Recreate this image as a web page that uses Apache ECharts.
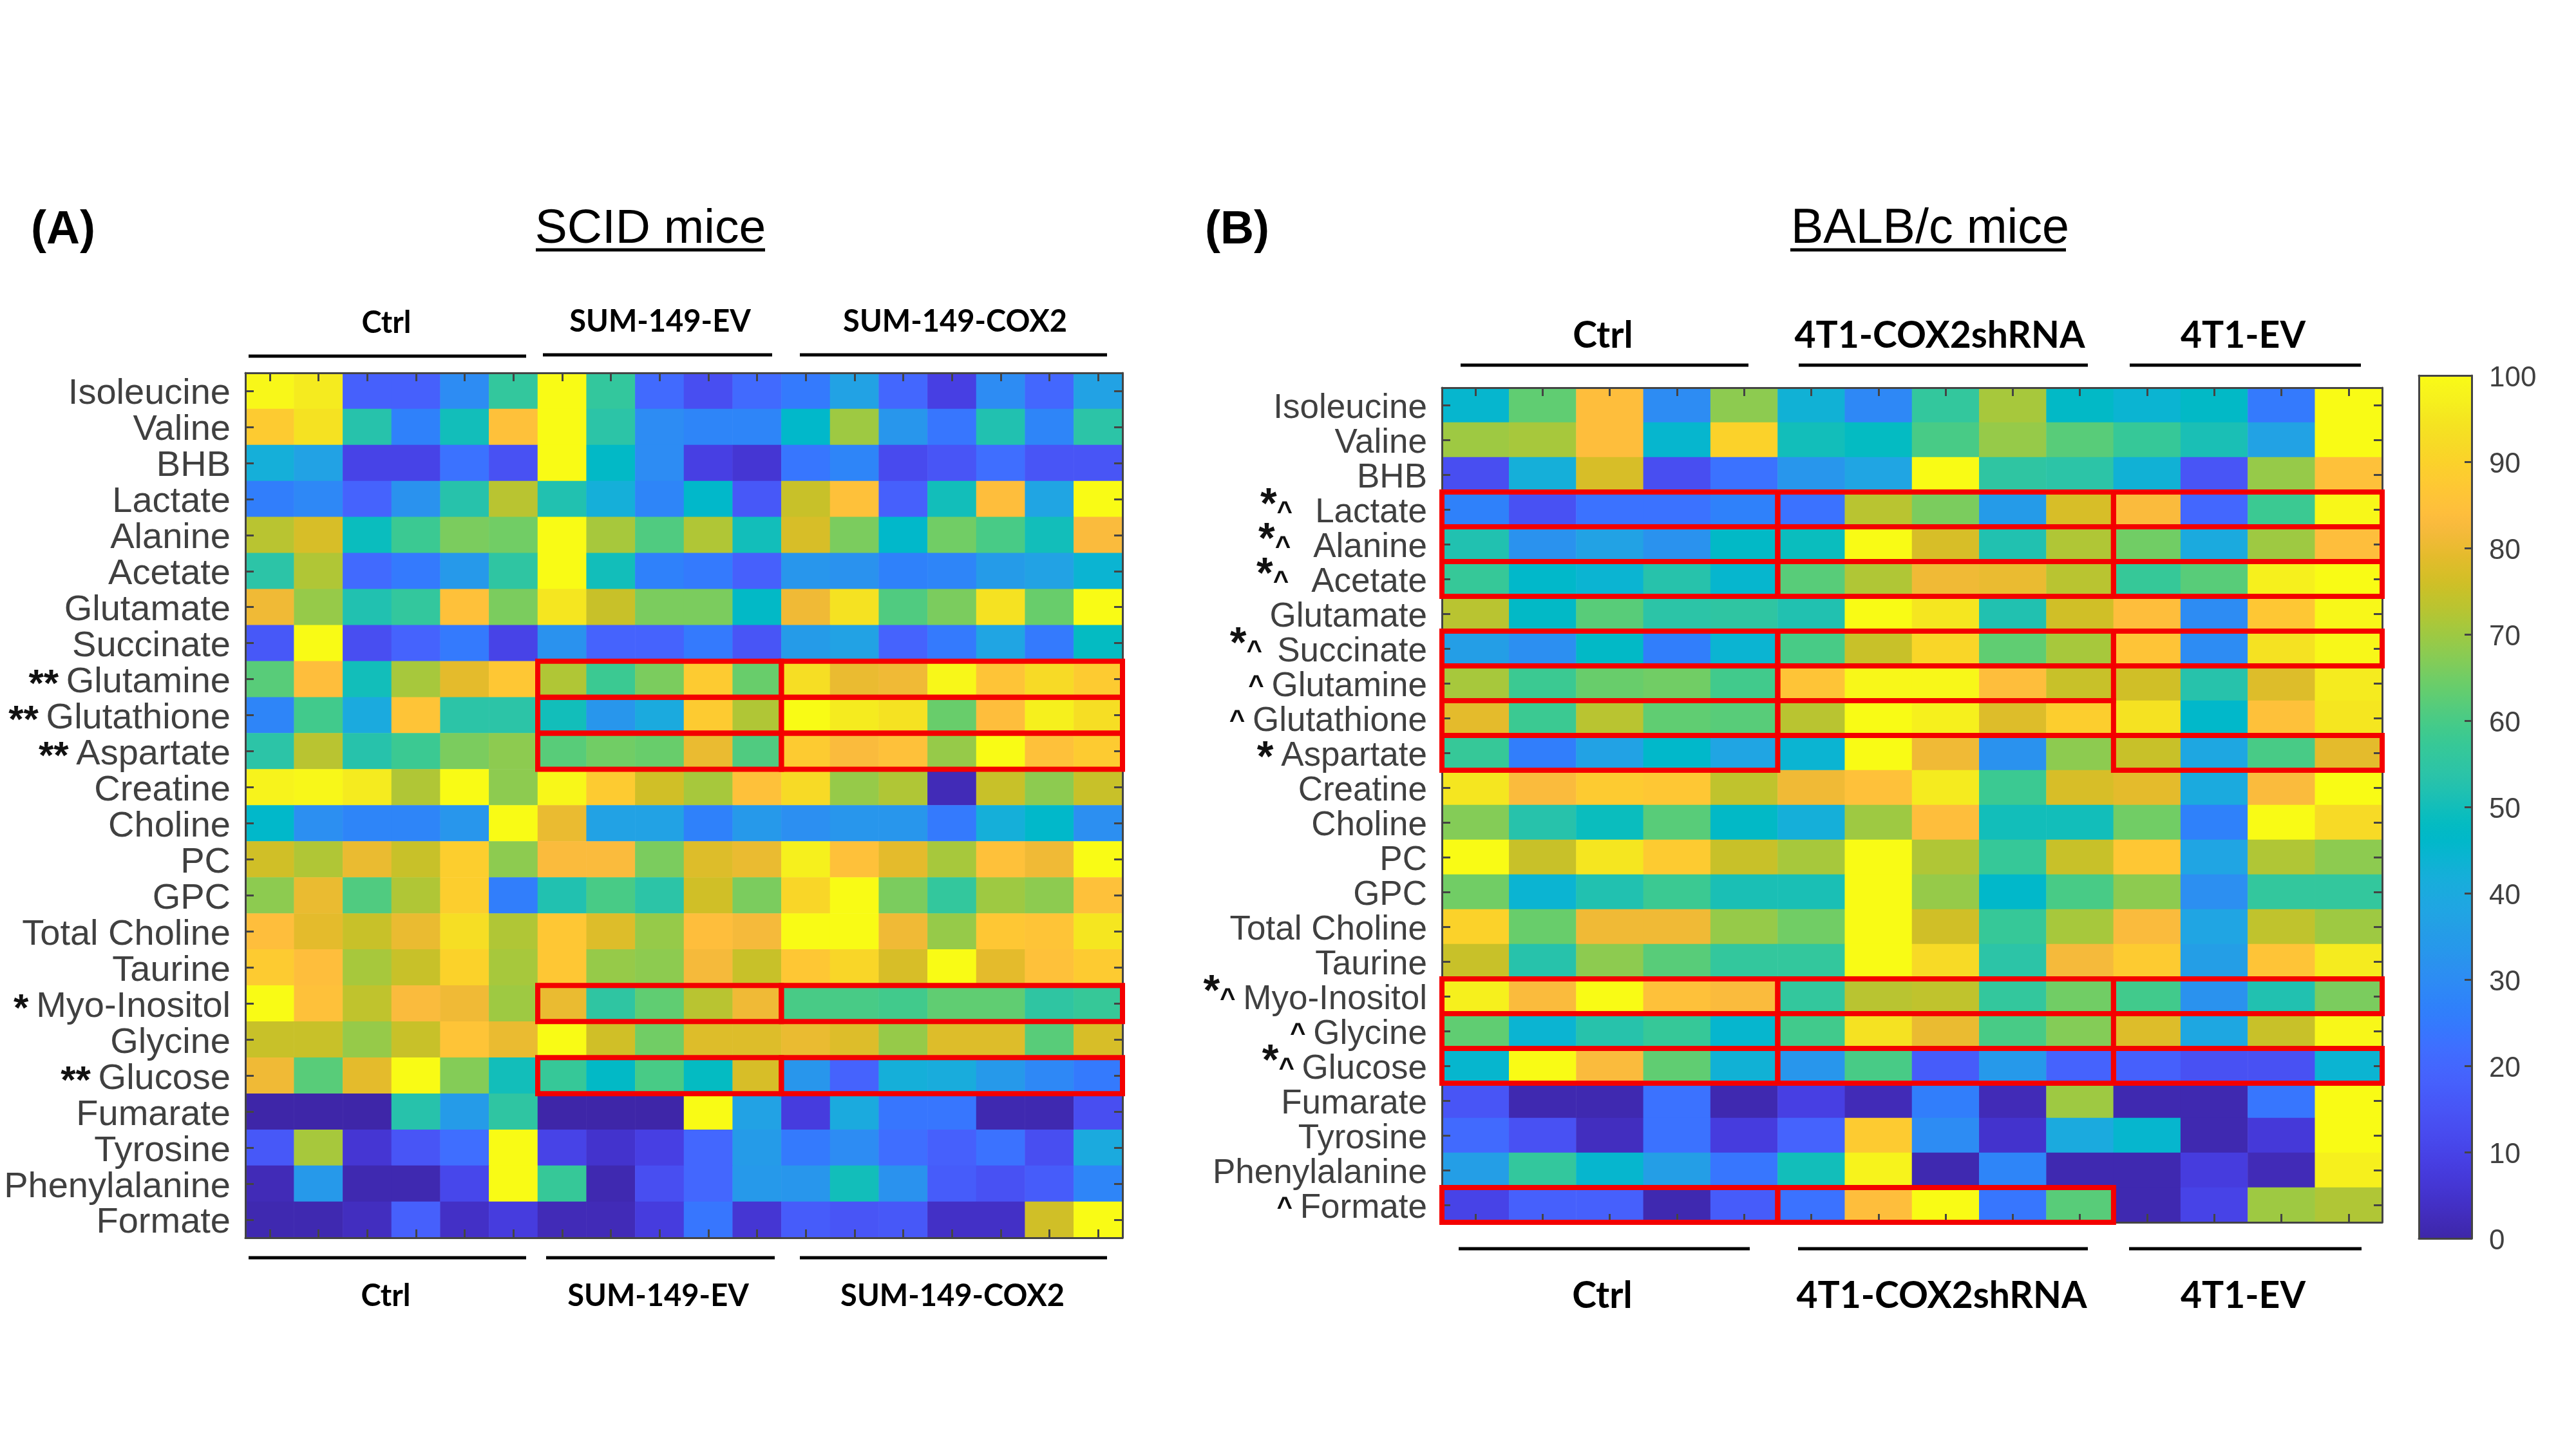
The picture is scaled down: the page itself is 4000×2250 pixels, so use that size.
<!DOCTYPE html>
<html><head><meta charset="utf-8">
<style>html,body{margin:0;padding:0;background:#fff}#c{width:4000px;height:2250px}</style>
<script src="https://cdn.jsdelivr.net/npm/echarts@6/dist/echarts.min.js"></script>
</head><body><div id="c"></div>
<script>
const metabolites = ['Isoleucine','Valine','BHB','Lactate','Alanine','Acetate','Glutamate','Succinate','Glutamine','Glutathione','Aspartate','Creatine','Choline','PC','GPC','Total Choline','Taurine','Myo-Inositol','Glycine','Glucose','Fumarate','Tyrosine','Phenylalanine','Formate'];
const marksA = ['','','','','','','','','** ','** ','** ','','','','','','','* ','','** ','','','',''];
const marksB = ['','','','*^   ','*^   ','*^   ','','*^  ','^ ','^ ','* ','','','','','','','*^ ','^ ','*^ ','','','','^ '];
const samplesA = ['1','2','3','4','5','6','7','8','9','10','11','12','13','14','15','16','17','18'];
const samplesB = ['1','2','3','4','5','6','7','8','9','10','11','12','13','14'];
const colorbarTicks = [0,100];

const scidValues = [
[99,96,18,18,30,56,100,56,21,13,21,25,37,20,9,30,20,37],
[88,94,53,27,50,85,100,54,30,28,28,46,70,33,24,52,28,54],
[42,37,10,10,23,14,100,47,30,9,6,24,28,12,15,22,15,15],
[26,29,19,32,53,73,52,42,28,46,16,75,85,18,50,84,38,100],
[73,77,49,58,66,65,100,71,61,72,50,77,66,46,65,60,50,83],
[54,72,21,25,34,55,100,50,27,25,18,33,32,27,28,35,37,44],
[81,69,52,56,85,66,95,75,66,66,47,81,94,61,66,94,64,100],
[16,100,13,19,25,10,32,19,19,25,15,35,37,19,25,38,25,48],
[62,84,50,71,79,87,72,58,66,88,64,93,80,81,99,86,92,88],
[28,59,40,86,54,54,50,33,40,88,72,100,96,94,64,84,97,93],
[54,73,53,58,66,68,62,65,64,80,61,88,83,85,69,100,85,88],
[98,99,96,72,100,68,99,88,76,71,85,92,69,72,2,75,68,75],
[46,31,28,28,33,100,80,37,37,27,34,31,33,33,25,42,46,31],
[76,72,80,75,89,68,83,83,66,78,80,97,85,79,71,85,81,100],
[68,80,61,72,89,26,52,60,54,76,66,91,100,66,56,70,68,85],
[84,79,75,80,93,72,87,78,69,84,82,100,100,81,69,87,86,95],
[88,84,71,75,90,71,87,69,68,82,75,87,91,77,100,79,85,88],
[100,85,74,83,81,70,80,55,63,73,81,60,60,59,63,63,55,57],
[75,75,69,75,86,80,100,76,65,78,78,80,78,69,78,78,62,77],
[81,62,79,100,67,50,57,47,60,48,77,33,19,42,41,34,29,25],
[0,0,0,53,35,55,0,0,0,100,37,8,40,24,24,1,1,13],
[16,71,6,15,22,100,10,5,9,20,35,25,30,22,18,23,13,40],
[2,34,1,1,11,100,57,1,13,20,34,33,50,32,17,14,17,28],
[1,1,3,18,4,8,2,2,8,24,6,17,15,16,4,4,76,100]];

const balbValues = [
[45,63,84,30,68,43,29,56,71,47,44,47,25,100],
[70,71,84,45,90,50,48,60,69,62,57,51,37,100],
[13,42,77,13,23,33,38,100,55,54,43,15,69,85],
[27,14,23,23,27,23,73,66,35,77,83,20,58,99],
[52,32,37,32,47,49,100,77,52,72,65,40,70,84],
[57,46,44,53,45,62,72,81,80,73,57,62,97,100],
[73,47,62,54,55,52,100,95,52,76,84,30,87,99],
[36,31,47,26,44,60,75,91,63,71,86,30,94,99],
[71,58,64,65,59,86,99,99,84,75,76,53,78,96],
[79,58,73,63,62,73,100,97,78,89,94,46,85,95],
[57,26,37,46,38,44,100,81,32,68,75,39,60,79],
[95,83,88,87,74,81,85,96,58,77,79,40,83,100],
[67,53,49,62,47,42,70,84,50,50,65,27,100,92],
[100,75,95,88,75,71,100,72,57,75,87,38,72,68],
[65,44,52,58,51,51,100,69,46,60,68,31,56,56],
[90,64,81,81,69,65,100,76,57,71,83,38,74,70],
[75,53,68,62,56,56,100,92,54,82,88,36,86,96],
[97,83,100,85,83,56,73,74,56,65,59,32,52,66],
[63,44,53,57,45,59,94,80,60,67,78,39,75,99],
[45,100,83,63,43,33,60,17,34,19,18,14,14,44],
[15,1,1,23,1,9,2,26,2,70,1,1,24,100],
[21,14,3,23,8,19,88,30,5,40,45,1,7,100],
[36,56,45,36,24,50,98,1,28,1,1,8,2,97],
[10,18,18,1,17,23,84,100,24,62,1,10,70,72]];

// highlighted cell ranges: [row, first column, last column]
const boxesA = [[8,6,10],[8,11,17],[9,6,10],[9,11,17],[10,6,10],[10,11,17],[17,6,10],[17,11,17],[19,6,10],[19,11,17]];
const boxesB = [[3,0,4],[3,5,9],[3,10,13],[4,0,4],[4,5,9],[4,10,13],[5,0,4],[5,5,9],[5,10,13],[7,0,4],[7,5,9],[7,10,13],[8,0,4],[8,5,9],[9,0,4],[9,5,9],[10,0,4],[10,10,13],[17,0,4],[17,5,9],[17,10,13],[18,0,4],[18,5,9],[19,0,4],[19,5,9],[19,10,13],[23,0,4],[23,5,9]];

const parula = [[.2422,.1504,.6603],[.2504,.165,.7076],[.2578,.1818,.7511],[.2647,.1978,.7952],[.2706,.2147,.8364],[.2751,.2342,.871],[.2783,.2559,.8991],[.2803,.2782,.9221],[.2813,.3006,.9414],[.281,.3228,.9579],[.2795,.3447,.9717],[.276,.3667,.9829],[.2699,.3892,.9906],[.2602,.4123,.9952],[.244,.4358,.9988],[.2206,.4603,.9973],[.1963,.4847,.9892],[.1834,.5074,.9798],[.1786,.5289,.9682],[.1764,.5499,.952],[.1687,.5703,.9359],[.154,.5902,.9218],[.146,.6091,.9079],[.138,.6276,.8973],[.1248,.6459,.8883],[.1113,.6635,.8763],[.0952,.6798,.8598],[.0689,.6948,.8394],[.0297,.7082,.8163],[.0036,.7203,.7917],[.0067,.7312,.766],[.0433,.7411,.7394],[.0964,.75,.712],[.1408,.7584,.6842],[.1717,.767,.6554],[.1938,.7758,.6251],[.2161,.7843,.5923],[.247,.7918,.5567],[.2906,.7973,.5188],[.3406,.8008,.4789],[.3909,.8029,.4354],[.4456,.8024,.3909],[.5044,.7993,.348],[.5616,.7942,.3045],[.6174,.7876,.2612],[.672,.7793,.2227],[.7242,.7698,.191],[.7738,.7598,.1646],[.8203,.7498,.1535],[.8634,.7406,.1596],[.9035,.733,.1774],[.9393,.7288,.21],[.9728,.7298,.2394],[.9956,.7434,.2371],[.997,.7659,.2199],[.9952,.7861,.1991],[.9892,.8085,.1816],[.9786,.8316,.1618],[.9676,.8557,.1477],[.961,.8799,.1361],[.9597,.906,.1241],[.9628,.9373,.1124],[.9691,.9606,.1066],[.9769,.9839,.0805]]
  .map(c => 'rgb(' + c.map(v => Math.round(v * 255)).join(',') + ')');

const cellData = m => m.flatMap((row, r) => row.map((v, c) => [c, r, v]));
const AXIS = '#444';

function axesFor(gridIndex, samples, labelSize, marks, starSize, starRaise, aloneDrop) {
  const line = { show: true, onZero: false, lineStyle: { color: AXIS, width: 3 } };
  const tick = { show: true, inside: true, length: 13, alignWithLabel: true, lineStyle: { color: AXIS, width: 3 } };
  const x = pos => ({ type: 'category', gridIndex, position: pos, data: samples, z: 6, axisLine: line, axisTick: tick, axisLabel: { show: false }, splitLine: { show: false } });
  const y = (pos, labelled) => ({
    type: 'category', gridIndex, position: pos, inverse: true, data: metabolites, z: 6,
    axisLine: line, axisTick: tick, splitLine: { show: false },
    axisLabel: labelled ? {
      show: true, interval: 0, margin: 23, padding: [10, 0, 0, 0], fontFamily: 'Liberation Sans', fontSize: labelSize, color: '#404040',
      formatter: (v, i) => {
        const m = marks[i];
        if (!m) return '{n|' + v + '}';
        const star = m.includes('^') ? '{s|*}' : '{t|*}';
        const parts = m.split('').map(ch => ch === '*' ? star : ch === '^' ? '{c|^}' : '{g| }').join('');
        return parts + '{n|' + v + '}';
      },
      rich: {
        n: { fontFamily: 'Liberation Sans', fontSize: labelSize, color: '#404040' },
        s: { fontFamily: 'Liberation Sans', fontWeight: 'bold', fontSize: starSize, color: '#111', padding: [0, 0, starRaise, 0] },
        t: { fontFamily: 'Liberation Sans', fontWeight: 'bold', fontSize: starSize, color: '#111', padding: [aloneDrop, 0, 0, 0] },
        c: { fontFamily: 'Liberation Sans', fontWeight: 'bold', fontSize: 42, color: '#111' },
        g: { fontFamily: 'Liberation Sans', fontSize: 42 }
      }
    } : { show: false }
  });
  return { xs: [x('bottom'), x('top')], ys: [y('left', true), y('right', false)] };
}

const a = axesFor(0, samplesA, 56, marksA, 60, 0, 10);
const b = axesFor(1, samplesB, 53, marksB, 66, 20, 10);
const cbTickLine = { show: true, onZero: false, lineStyle: { color: AXIS, width: 3 } };
const cbX = pos => ({ type: 'value', gridIndex: 2, position: pos, min: 0, max: 1, z: 6, axisLine: cbTickLine, axisTick: { show: false }, axisLabel: { show: false }, splitLine: { show: false } });
const cbY = (pos, labelled) => ({ type: 'value', gridIndex: 2, position: pos, min: colorbarTicks[0], max: colorbarTicks[1], interval: 10, z: 6, axisLine: cbTickLine, splitLine: { show: false },
  axisTick: { show: labelled, inside: true, length: 11, lineStyle: { color: AXIS, width: 3 } },
  axisLabel: labelled ? { show: true, margin: 27, formatter: v => '{v|' + v + '}', rich: { v: { fontFamily: 'Liberation Sans', fontSize: 44, color: '#404040', padding: [10, 0, 0, 0] } } } : { show: false } });

const boxRender = (params, api) => {
  const s = api.size([1, 1]);
  const p0 = api.coord([api.value(1), api.value(0)]);
  const p1 = api.coord([api.value(2), api.value(0)]);
  return { type: 'rect', shape: { x: p0[0] - s[0] / 2, y: p0[1] - s[1] / 2, width: p1[0] - p0[0] + s[0], height: s[1] },
    style: { fill: 'transparent', stroke: '#f40000', lineWidth: 8 } };
};
const boxSeries = (i, data) => ({ type: 'custom', xAxisIndex: i, yAxisIndex: i, renderItem: boxRender, data, z: 10, silent: true, clip: false,
  encode: { x: [1, 2], y: 0 } });

const txt = (text, x, y, size, weight, family, color) => ({ type: 'text', z: 20, style: { x, y, text, fill: color || '#000', textAlign: 'center', textVerticalAlign: 'middle', font: (weight || 'normal') + ' ' + size + 'px "' + (family || 'Liberation Sans') + '"' } });
const bar = (x1, x2, y, h) => ({ type: 'rect', z: 20, shape: { x: x1, y: y - (h || 5) / 2, width: x2 - x1, height: h || 5 }, style: { fill: '#000' } });

const chart = echarts.init(document.getElementById('c'), null, { width: 4000, height: 2250 });
chart.setOption({
  animation: false,
  backgroundColor: '#fff',
  grid: [
    { left: 381, top: 579, width: 1362, height: 1343 },
    { left: 2239, top: 602, width: 1460, height: 1296 },
    { left: 3756, top: 583, width: 82, height: 1340 }
  ],
  xAxis: [a.xs[0], a.xs[1], b.xs[0], b.xs[1], cbX('bottom'), cbX('top')],
  yAxis: [a.ys[0], a.ys[1], b.ys[0], b.ys[1], cbY('left', false), cbY('right', true)],
  visualMap: {
    type: 'continuous', min: 0, max: 100, seriesIndex: [0, 1], calculable: false, show: true,
    left: 3756, top: 583, itemWidth: 82, itemHeight: 1340, padding: 0, text: null, showLabel: false,
    inRange: { color: parula }, hoverLink: false
  },
  series: [
    { type: 'heatmap', xAxisIndex: 0, yAxisIndex: 0, data: cellData(scidValues), itemStyle: { borderWidth: 0 }, emphasis: { disabled: true } },
    { type: 'heatmap', xAxisIndex: 2, yAxisIndex: 2, data: cellData(balbValues), itemStyle: { borderWidth: 0 }, emphasis: { disabled: true } },
    boxSeries(0, boxesA),
    boxSeries(2, boxesB)
  ],
  graphic: { elements: [
    txt('(A)', 98, 358, 72, 'bold'),
    txt('SCID mice', 1010, 356, 75),
    bar(832, 1188, 388),
    txt('(B)', 1921, 358, 72, 'bold'),
    txt('BALB/c mice', 2997, 356, 75.5),
    bar(2780, 3208, 388),
    txt('Ctrl', 600, 502, 47, 'bold', 'Lato'),
    txt('SUM-149-EV', 1025, 500, 47, 'bold', 'Lato'),
    txt('SUM-149-COX2', 1483, 500, 47, 'bold', 'Lato'),
    bar(386, 817, 553), bar(843, 1199, 551), bar(1242, 1719, 551),
    bar(386, 817, 1953), bar(848, 1203, 1953), bar(1242, 1719, 1953),
    txt('Ctrl', 599, 2013, 47, 'bold', 'Lato'),
    txt('SUM-149-EV', 1022, 2013, 47, 'bold', 'Lato'),
    txt('SUM-149-COX2', 1479, 2013, 47, 'bold', 'Lato'),
    txt('Ctrl', 2489, 522, 57, 'bold', 'Lato'),
    txt('4T1-COX2shRNA', 3012, 522, 57, 'bold', 'Lato'),
    txt('4T1-EV', 3483, 522, 57, 'bold', 'Lato'),
    bar(2268, 2715, 567), bar(2793, 3242, 567), bar(3307, 3666, 567),
    bar(2265, 2717, 1939), bar(2792, 3242, 1939), bar(3306, 3667, 1939),
    txt('Ctrl', 2488, 2013, 57, 'bold', 'Lato'),
    txt('4T1-COX2shRNA', 3015, 2013, 57, 'bold', 'Lato'),
    txt('4T1-EV', 3483, 2013, 57, 'bold', 'Lato')
  ] }
});
</script></body></html>
